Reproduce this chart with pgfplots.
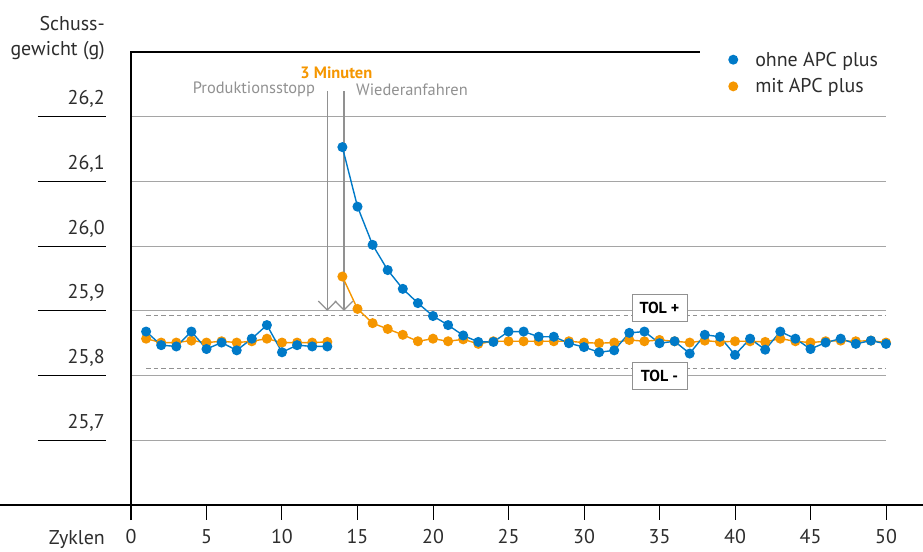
\documentclass[border=0pt]{standalone}
\usepackage{fontspec}
\setmainfont{PT Sans}
\usepackage{pgfplots}
\pgfplotsset{compat=1.18}
\usetikzlibrary{arrows.meta}
\definecolor{cblue}{RGB}{0,122,200}
\definecolor{corange}{RGB}{245,150,0}
\definecolor{cgrid}{RGB}{165,165,165}
\definecolor{ctext}{RGB}{45,45,45}
\definecolor{cann}{RGB}{145,145,145}
\begin{document}
\begin{tikzpicture}[x=1bp,y=1bp]
\begin{axis}[
  at={(0,0)}, anchor=south west,
  scale only axis, width=755bp, height=453bp,
  xmin=0, xmax=50, ymin=25.6, ymax=26.3,
  clip=false,
  axis line style={draw=none},
  xtick={0,5,...,50},
  xtick pos=bottom,
  ytick={25.7,25.8,25.9,26.0,26.1,26.2},
  tick align=outside,
  major tick length=15bp,
  x tick style={black, line width=1bp},
  y tick style={draw=none},
  ymajorgrids,
  major grid style={cgrid, line width=1.2bp},
  tick label style={font=\fontsize{20}{24}\selectfont, text=ctext, inner sep=0pt},
  xticklabel style={anchor=base, yshift=-24bp},
  yticklabel style={anchor=base east, xshift=-11bp, yshift=12bp},
  /pgf/number format/assume math mode=true,
  y tick label style={/pgf/number format/fixed, /pgf/number format/fixed zerofill, /pgf/number format/precision=1, /pgf/number format/use comma},
  legend style={draw=none, fill=none, inner sep=0pt, at={(axis cs:39.54,26.2675)}, anchor=west,
    font=\fontsize{20}{24}\selectfont, text=ctext, row sep=11bp,
    nodes={inner sep=0pt}},
  legend cell align=left,
  legend image code/.code={\fill[#1, draw=none] (0bp,0bp) circle (5bp); \path[draw=none, fill=none] (-5bp,0bp) -- (22bp,0bp);},
]
% decoration lines
\draw[black, line width=1.4bp] ([xshift=-131bp]rel axis cs:0,0) -- ([xshift=37bp]rel axis cs:1,0);
\draw[black, line width=1.4bp] ([yshift=-15bp]rel axis cs:0,0) -- (rel axis cs:0,1) -- (axis cs:37.7,26.3);
\pgfplotsinvokeforeach{25.7,25.8,25.9,26.0,26.1,26.2}{
  \draw[black, line width=1.2bp] ([xshift=-93bp]axis cs:0,#1) -- ([xshift=-25bp]axis cs:0,#1);
}
% tolerance lines
\draw[cann, line width=1.2bp, dash pattern=on 4.5bp off 3.2bp] (axis cs:1,25.893) -- (axis cs:50,25.893);
\draw[cann, line width=1.2bp, dash pattern=on 4.5bp off 3.2bp] (axis cs:1,25.811) -- (axis cs:50,25.811);
% arrows
\draw[cann, line width=1.2bp, -{Straight Barb[length=9bp,width=18bp]}] (axis cs:13,26.239) -- (axis cs:13,25.9);
\draw[cann, line width=1.2bp, -{Straight Barb[length=9bp,width=18bp]}] (axis cs:14.1,26.239) -- (axis cs:14.1,25.9);
\node[text=corange, font=\bfseries\fontsize{16.5}{19}\selectfont, anchor=center] at (axis cs:13.6,26.2675) {3 Minuten};
\node[text=cann, font=\fontsize{16.5}{19}\selectfont, anchor=east, inner sep=0pt] at (axis cs:12.2,26.242) {Produktionsstopp};
\node[text=cann, font=\fontsize{16.5}{19}\selectfont, anchor=west, inner sep=0pt] at (axis cs:14.9,26.242) {Wiederanfahren};
% labels
\node[anchor=base east, inner sep=0pt, text=ctext, font=\fontsize{20}{24}\selectfont, align=right]
  at ([xshift=-26bp, yshift=-39bp]rel axis cs:0,0) {Zyklen};
\node[anchor=north east, inner sep=0pt, text=ctext, font=\fontsize{20}{25}\selectfont, align=right]
  at ([xshift=-26bp, yshift=36bp]rel axis cs:0,1) {Schuss-\\gewicht (g)};

\addlegendimage{cblue}
\addlegendentry{ohne APC plus}
\addlegendimage{corange}
\addlegendentry{mit APC plus}

% orange series
\addplot[corange, line width=1.4bp, mark=*, mark size=4.3bp, mark options={draw=none, fill=corange}, forget plot] coordinates {
(1,25.857) (2,25.851) (3,25.851) (4,25.854) (5,25.851) (6,25.853) (7,25.851) (8,25.853) (9,25.857) (10,25.851) (11,25.851) (12,25.851) (13,25.852)};
\addplot[corange, line width=1.4bp, mark=*, mark size=4.3bp, mark options={draw=none, fill=corange}, forget plot] coordinates {
(14,25.953) (15,25.903) (16,25.881) (17,25.872) (18,25.863) (19,25.853) (20,25.857) (21,25.853) (22,25.856) (23,25.849)
(24,25.853) (25,25.853) (26,25.853) (27,25.853) (28,25.853) (29,25.853) (30,25.851) (31,25.850) (32,25.851) (33,25.855)
(34,25.853) (35,25.855) (36,25.853) (37,25.851) (38,25.854) (39,25.852) (40,25.853) (41,25.853) (42,25.852) (43,25.857)
(44,25.853) (45,25.851) (46,25.853) (47,25.854) (48,25.853) (49,25.854) (50,25.851)};
% blue series
\addplot[cblue, line width=1.4bp, mark=*, mark size=4.3bp, mark options={draw=none, fill=cblue}, forget plot] coordinates {
(1,25.868) (2,25.847) (3,25.845) (4,25.868) (5,25.841) (6,25.851) (7,25.839) (8,25.857) (9,25.878) (10,25.836) (11,25.847) (12,25.845) (13,25.845)};
\addplot[cblue, line width=1.4bp, mark=*, mark size=4.3bp, mark options={draw=none, fill=cblue}, forget plot] coordinates {
(14,26.153) (15,26.061) (16,26.002) (17,25.963) (18,25.934) (19,25.912) (20,25.892) (21,25.878) (22,25.862) (23,25.852)
(24,25.852) (25,25.868) (26,25.868) (27,25.860) (28,25.860) (29,25.850) (30,25.844) (31,25.836) (32,25.839) (33,25.866)
(34,25.868) (35,25.850) (36,25.853) (37,25.834) (38,25.863) (39,25.860) (40,25.832) (41,25.857) (42,25.840) (43,25.868)
(44,25.857) (45,25.841) (46,25.851) (47,25.857) (48,25.849) (49,25.854) (50,25.849)};

% TOL boxes
\node[draw=cann, fill=white, line width=1bp, font=\bfseries\fontsize{16}{18}\selectfont, text=black, minimum width=55bp, minimum height=27bp, inner sep=0pt] at (axis cs:35,25.904) {TOL +};
\node[draw=cann, fill=white, line width=1bp, font=\bfseries\fontsize{16}{18}\selectfont, text=black, minimum width=55bp, minimum height=27bp, inner sep=0pt] at (axis cs:35,25.8) {TOL -};
\end{axis}
\pgfresetboundingbox
\path (-131bp,-47bp) rectangle (792bp,505bp);
\end{tikzpicture}
\end{document}
